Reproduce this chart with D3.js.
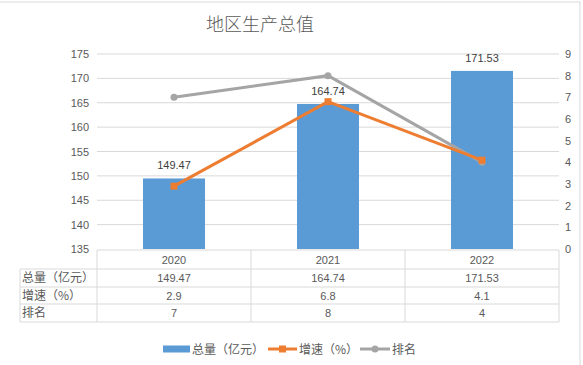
<!DOCTYPE html>
<html>
<head>
<meta charset="utf-8">
<script src="https://cdn.jsdelivr.net/npm/d3@7"></script>
<style>
  body { margin: 0; background: #fff; }
  svg { display: block; font-family: "Liberation Sans", "Noto Sans CJK SC", sans-serif; }
</style>
</head>
<body>
<div id="chart"></div>
<script>
// 1. Data
const years = ["2020", "2021", "2022"];
const totals = [149.47, 164.74, 171.53];
const growth = [2.9, 6.8, 4.1];
const ranks = [7, 8, 4];
const leftTicks = [135, 140, 145, 150, 155, 160, 165, 170, 175];
const rightTicks = [0, 1, 2, 3, 4, 5, 6, 7, 8, 9];
const rowNames = ["总量（亿元）", "增速（%）", "排名"];
const rowValues = [totals.map((d) => d.toFixed(2)), growth.map((d) => d.toFixed(1)), ranks.map(String)];
const legendNames = ["总量（亿元）", "增速（%）", "排名"];

const colors = { bar: "#5B9BD5", growth: "#ED7D31", rank: "#A5A5A5" };
const textColor = "#595959";

// 2. Dimensions
const dims = { width: 583, height: 365, left: 97, right: 559, top: 54, bottom: 249 };

// 3. Container
const svg = d3.select("#chart").append("svg")
  .attr("width", dims.width)
  .attr("height", dims.height);

svg.append("rect")
  .attr("x", -1).attr("y", 2)
  .attr("width", 581).attr("height", 370)
  .attr("fill", "#fff")
  .attr("stroke", "#d9d9d9");

svg.append("text")
  .attr("x", 260).attr("y", 31)
  .attr("text-anchor", "middle")
  .attr("fill", textColor)
  .style("font-size", "18px")
  .style("font-weight", 300)
  .style("font-family", "Noto Sans CJK SC")
  .text("地区生产总值");

// 4. Scales
const xScale = d3.scaleBand().domain(years).range([dims.left, dims.right]).paddingInner(0).paddingOuter(0);
const yLeft = d3.scaleLinear().domain([135, 175]).range([dims.bottom, dims.top]);
const yRight = d3.scaleLinear().domain([0, 9]).range([dims.bottom, dims.top]);
const cx = (d) => xScale(d) + xScale.bandwidth() / 2;
const barWidth = 62;

// gridlines
svg.append("g").selectAll("line").data(leftTicks.slice(1)).join("line")
  .attr("x1", dims.left).attr("x2", dims.right)
  .attr("y1", (d) => yLeft(d)).attr("y2", (d) => yLeft(d))
  .attr("stroke", "#d9d9d9").attr("stroke-width", 1);

// 5. Draw bars
svg.append("g").selectAll("rect").data(years).join("rect")
  .attr("x", (d) => cx(d) - barWidth / 2)
  .attr("width", barWidth)
  .attr("y", (d, i) => yLeft(totals[i]))
  .attr("height", (d, i) => dims.bottom - yLeft(totals[i]))
  .attr("fill", colors.bar);

svg.append("g").selectAll("text").data(years).join("text")
  .attr("x", cx)
  .attr("y", (d, i) => yLeft(totals[i]) - 9)
  .attr("text-anchor", "middle")
  .attr("fill", "#404040")
  .style("font-size", "11px")
  .text((d, i) => totals[i].toFixed(2));

// lines
const line = (vals) => d3.line().x((d, i) => cx(years[i])).y((d) => yRight(d))(vals);

svg.append("path").attr("d", line(ranks))
  .attr("fill", "none").attr("stroke", colors.rank).attr("stroke-width", 3);
svg.append("g").selectAll("circle").data(ranks).join("circle")
  .attr("cx", (d, i) => cx(years[i])).attr("cy", (d) => yRight(d))
  .attr("r", 3.5).attr("fill", colors.rank);

svg.append("path").attr("d", line(growth))
  .attr("fill", "none").attr("stroke", colors.growth).attr("stroke-width", 3);
svg.append("g").selectAll("rect").data(growth).join("rect")
  .attr("x", (d, i) => cx(years[i]) - 3.5).attr("y", (d) => yRight(d) - 3.5)
  .attr("width", 7).attr("height", 7).attr("fill", colors.growth);

// 6. Axes
const leftAxis = svg.append("g")
  .attr("transform", `translate(${dims.left - 8},0)`)
  .call(d3.axisLeft(yLeft).tickValues(leftTicks).tickSize(0).tickPadding(0));
const rightAxis = svg.append("g")
  .attr("transform", `translate(${dims.right + 9},0)`)
  .call(d3.axisRight(yRight).tickValues(rightTicks).tickSize(0).tickPadding(0));
[leftAxis, rightAxis].forEach((g) => {
  g.select(".domain").remove();
  g.selectAll("text").attr("fill", textColor).style("font-size", "11px");
});
rightAxis.selectAll("text").attr("text-anchor", "middle");

// data table
const rowLines = [250, 269, 287, 304, 322];
const table = svg.append("g").attr("stroke", "#d9d9d9").attr("stroke-width", 1);
table.append("line").attr("x1", dims.left).attr("x2", dims.right).attr("y1", rowLines[0]).attr("y2", rowLines[0]);
rowLines.slice(1).forEach((y) => {
  table.append("line").attr("x1", 20).attr("x2", dims.right).attr("y1", y).attr("y2", y);
});
table.append("line").attr("x1", 20).attr("x2", 20).attr("y1", rowLines[1]).attr("y2", rowLines[4]);
[...years.map((d) => xScale(d)), dims.right].forEach((x) => {
  table.append("line").attr("x1", x).attr("x2", x).attr("y1", rowLines[0]).attr("y2", rowLines[4]);
});

svg.append("g").selectAll("text").data(years).join("text")
  .attr("x", cx).attr("y", (rowLines[0] + rowLines[1]) / 2 + 4)
  .attr("text-anchor", "middle").attr("fill", textColor)
  .style("font-size", "11px").text((d) => d);

rowNames.forEach((name, r) => {
  const yMid = (rowLines[r + 1] + rowLines[r + 2]) / 2 + 4;
  svg.append("text")
    .attr("x", 22).attr("y", yMid)
    .attr("fill", textColor).style("font-size", "12px")
    .style("font-family", "Noto Sans CJK SC")
    .text(name);
  svg.append("g").selectAll("text").data(years).join("text")
    .attr("x", cx).attr("y", yMid)
    .attr("text-anchor", "middle").attr("fill", textColor)
    .style("font-size", "11px")
    .text((d, i) => rowValues[r][i]);
});

// legend
const legendY = 349;
const legend = svg.append("g");
legend.append("rect").attr("x", 163).attr("y", legendY - 3.5).attr("width", 27).attr("height", 7).attr("fill", colors.bar);
legend.append("line").attr("x1", 268).attr("x2", 297).attr("y1", legendY).attr("y2", legendY)
  .attr("stroke", colors.growth).attr("stroke-width", 3);
legend.append("rect").attr("x", 279).attr("y", legendY - 3.5).attr("width", 7).attr("height", 7).attr("fill", colors.growth);
legend.append("line").attr("x1", 360).attr("x2", 390).attr("y1", legendY).attr("y2", legendY)
  .attr("stroke", colors.rank).attr("stroke-width", 3);
legend.append("circle").attr("cx", 375).attr("cy", legendY).attr("r", 3.5).attr("fill", colors.rank);
legend.selectAll("text").data(legendNames).join("text")
  .attr("x", (d, i) => [192, 299, 392][i]).attr("y", legendY + 4.5)
  .attr("fill", textColor).style("font-size", "12px")
  .style("font-family", "Noto Sans CJK SC")
  .text((d) => d);
</script>
</body>
</html>
